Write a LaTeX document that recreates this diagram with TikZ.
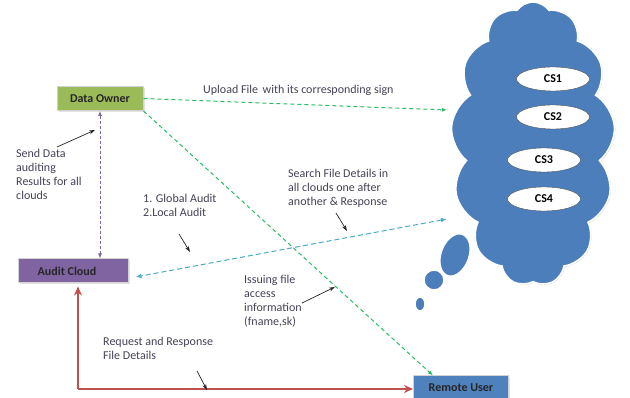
\documentclass[tikz,border=0pt]{standalone}
\usepackage{fontspec}
\setmainfont{Carlito}
\usetikzlibrary{arrows.meta,positioning,shapes.geometric,shapes.symbols,shadows}
\definecolor{ownergreen}{RGB}{155,187,89}
\definecolor{auditpurple}{RGB}{128,100,162}
\definecolor{remoteblue}{RGB}{79,129,189}
\definecolor{cloudblue}{RGB}{76,126,187}
\definecolor{upgreen}{RGB}{40,190,100}
\definecolor{searchcyan}{RGB}{75,172,198}
\definecolor{reqred}{RGB}{192,80,77}
\definecolor{notegray}{RGB}{70,66,86}
\tikzset{
  actor/.style={
    draw=gray!35,
    line width=1pt,
    minimum height=24pt,
    inner sep=2pt,
    font=\bfseries\fontsize{12}{14}\selectfont,
    text=black!85,
    drop shadow={shadow xshift=1.5pt,shadow yshift=-1.5pt,fill=gray!45}
  },
  server/.style={
    ellipse,
    draw=black!70,
    fill=white,
    minimum width=73pt,
    minimum height=24pt,
    inner sep=0pt,
    font=\bfseries\fontsize{12}{14}\selectfont
  },
  puff/.style={fill=cloudblue,draw=white,line width=1.5pt},
  note/.style={
    anchor=north west,
    align=left,
    inner sep=0pt,
    text=notegray,
    font=\fontsize{12}{14}\selectfont
  },
  pointer/.style={-{Stealth[length=6pt,width=4pt]},line width=0.7pt,black!85},
  uparr/.style={-{Latex[length=5pt,width=4pt]},line width=1pt,upgreen,dash pattern=on 4pt off 3pt},
  auditarr/.style={{Latex[length=5pt,width=4pt]}-{Latex[length=5pt,width=4pt]},line width=0.8pt,auditpurple,dash pattern=on 3pt off 2pt},
  searcharr/.style={{Latex[length=6pt,width=4.5pt]}-{Latex[length=6pt,width=4.5pt]},line width=1pt,searchcyan,dash pattern=on 5pt off 3pt},
  reqarr/.style={-{Stealth[length=9pt,width=8pt]},line width=2.8pt,reqred}
}
\begin{document}
\begin{tikzpicture}[x=1pt,y=-1pt]
  \useasboundingbox[fill=white] (0,0) rectangle (630,398);

  % cloud with its servers
  \node[cloud,cloud puffs=13,cloud puff arc=110,cloud ignores aspect,
        minimum width=164pt,minimum height=284pt,puff,
        drop shadow={shadow xshift=1pt,shadow yshift=-1pt,fill=gray!40}] (cloud) at (533,144) {};
  \draw[puff,rotate around={-20:(455,255)}] (455,255) ellipse (14 and 22);
  \draw[puff] (434,280) ellipse (10 and 10);
  \draw[puff] (420,304) ellipse (5 and 7);
  \node[server] (cs1) at (553,79) {CS1};
  \node[server] (cs2) at (553,117) {CS2};
  \node[server] (cs3) at (544,160) {CS3};
  \node[server] (cs4) at (544,199) {CS4};
  \coordinate (upin) at (447,110);
  \coordinate (srchin) at (447,219);

  % parties
  \node[actor,fill=ownergreen,minimum width=86pt] (owner) at (100,98.5) {Data Owner};
  \node[actor,fill=auditpurple,minimum width=110pt] (audit) at (73,271) {Audit Cloud\hspace*{12pt}};
  \node[actor,fill=remoteblue,minimum width=95pt] (remote) at (461,388) {Remote User};
  \coordinate (corner) at (78,389);

  % connectors
  \draw[uparr] (owner.east) -- (upin);
  \draw[uparr] (owner.south east) -- ([xshift=-28pt]remote.north);
  \draw[auditarr] (owner.south) -- (owner.south |- audit.north);
  \draw[searcharr] (srchin) -- ([xshift=7pt,yshift=-6pt]audit.east);
  \draw[reqarr,{Stealth[length=9pt,width=8pt]}-] ([xshift=5pt,yshift=-3pt]audit.south) -- (corner);
  \draw[reqarr] (corner) -- (remote.west |- corner);

  % labels
  \node[note] (uplbl) at (203,85) {Upload File\, with its corresponding sign};
  \node[note] (sendlbl) at (16,149) {Send Data\\auditing\\Results for all\\clouds};
  \node[note] (kindlbl) at (143,194) {1. Global Audit\\2.Local Audit};
  \node[note] (srchlbl) at (288,169) {Search File Details in\\all clouds one after\\another \& Response};
  \node[note] (issuelbl) at (244,275) {Issuing file\\access\\information\\(fname,sk)};
  \node[note] (reqlbl) at (103,337) {Request and Response\\File Details};

  % pointers
  \coordinate (sendt) at (57,147);   \coordinate (sendh) at (95,130);
  \coordinate (kindt) at (179,234);  \coordinate (kindh) at (190,252);
  \coordinate (srcht) at (336,213);  \coordinate (srchh) at (347,231);
  \coordinate (issuet) at (302,303); \coordinate (issueh) at (335,287);
  \coordinate (reqt) at (197,371);   \coordinate (reqh) at (207,390);
  \draw[pointer] (sendt) -- (sendh);
  \draw[pointer] (kindt) -- (kindh);
  \draw[pointer] (srcht) -- (srchh);
  \draw[pointer] (issuet) -- (issueh);
  \draw[pointer] (reqt) -- (reqh);
\end{tikzpicture}
\end{document}
